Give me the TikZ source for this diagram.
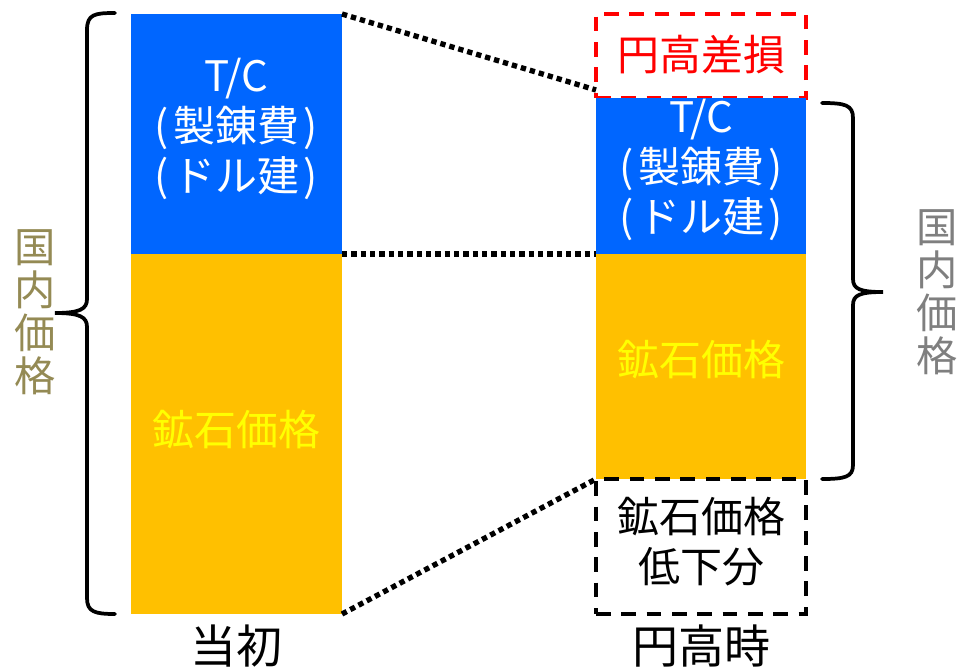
\documentclass[tikz,border=0pt]{standalone}
\usepackage{fontspec}
\setmainfont{Noto Sans CJK JP}
\usetikzlibrary{calc}
\definecolor{barblue}{HTML}{0066FF}
\definecolor{barorange}{HTML}{FFC000}
\definecolor{txtyellow}{HTML}{FFFF00}
\definecolor{lossred}{HTML}{FF0000}
\definecolor{olive}{HTML}{948A54}
\definecolor{midgray}{HTML}{7F7F7F}
\newcommand{\lp}{(\hspace{0.1em}}
\newcommand{\rp}{\hspace{0.1em})}
\tikzset{
  bar/.style={inner sep=0pt, outer sep=0pt, anchor=north west, draw=none},
  dotline/.style={line width=4pt, dash pattern=on 4pt off 3pt, line cap=butt},
  dashbox/.style={bar, line width=3pt, dash pattern=on 11pt off 8pt},
  bracepath/.style={line width=2.8pt, line cap=round},
  main/.style={font=\fontsize{31.5pt}{37.5pt}\selectfont, align=center, inner sep=0pt},
  big/.style={font=\fontsize{34.5pt}{40pt}\selectfont, inner sep=0pt},
  vert/.style={font=\fontsize{31pt}{32.25pt}\selectfont, align=center, inner sep=0pt}
}
\begin{document}
\begin{tikzpicture}[x=0.75pt,y=-0.75pt]
\useasboundingbox (0,0) rectangle (958,668);
% left bar
\node[bar, fill=barblue, minimum width=158.25pt, minimum height=180pt] (lb) at (131,14) {};
\node[bar, fill=barorange, minimum width=158.25pt, minimum height=270pt] (lo) at (131,254) {};
% right bar
\node[dashbox, draw=lossred, minimum width=157.5pt, minimum height=63pt] (rr) at (596,14) {};
\node[bar, fill=barblue, minimum width=157.5pt, minimum height=117pt] (rb) at (596,98) {};
\node[bar, fill=barorange, minimum width=157.5pt, minimum height=168.75pt] (ro) at (596,254) {};
\node[dashbox, draw=black, minimum width=157.5pt, minimum height=101.25pt] (rd) at (596,479) {};
% texts
\node[main, text=white] (lbt) at (236,129) {T/C\\\lp 製錬費\rp\\\lp ドル建\rp};
\node[main, text=txtyellow] (lot) at (236,430) {鉱石価格};
\node[main, text=lossred] (rrt) at (701,55) {円高差損};
\node[main, text=white] (rbt) at (701,170) {T/C\\\lp 製錬費\rp\\\lp ドル建\rp};
\node[main, text=txtyellow] (rot) at (701,360) {鉱石価格};
\node[main, text=black] (rdt) at (701,542) {鉱石価格\\低下分};
\node[big] (l1) at (236,646) {当初};
\node[big] (l2) at (701,646) {円高時};
\node[vert, text=olive] (lv) at (35,312) {国\\内\\価\\格};
\node[vert, text=midgray] (rv) at (937,292) {国\\内\\価\\格};
% dotted connectors
\draw[dotline] (lb.north east) -- ([yshift=6pt]rr.south west);
\draw[dotline] (lb.south east) -- (rb.south west);
\draw[dotline] (lo.south east) -- (rd.north west);
% braces
\coordinate (lbt1) at (115,13);
\coordinate (lbtip) at (55,313);
\coordinate (lbb1) at (115,614);
\draw[bracepath] (lbt1) .. controls (95,13) and (87,14) .. (87,30) -- (87,299)
  .. controls (87,309) and (80,313) .. (lbtip)
  .. controls (80,313) and (87,317) .. (87,327) -- (87,598)
  .. controls (87,612) and (95,614) .. (lbb1);
\coordinate (rbt1) at (822,103);
\coordinate (rbtip) at (883,292);
\coordinate (rbb1) at (822,479);
\draw[bracepath] (rbt1) .. controls (845,103) and (853,105) .. (853,118) -- (853,279)
  .. controls (853,289) and (860,292) .. (rbtip)
  .. controls (860,292) and (853,295) .. (853,305) -- (853,465)
  .. controls (853,477) and (845,479) .. (rbb1);
\end{tikzpicture}
\end{document}
